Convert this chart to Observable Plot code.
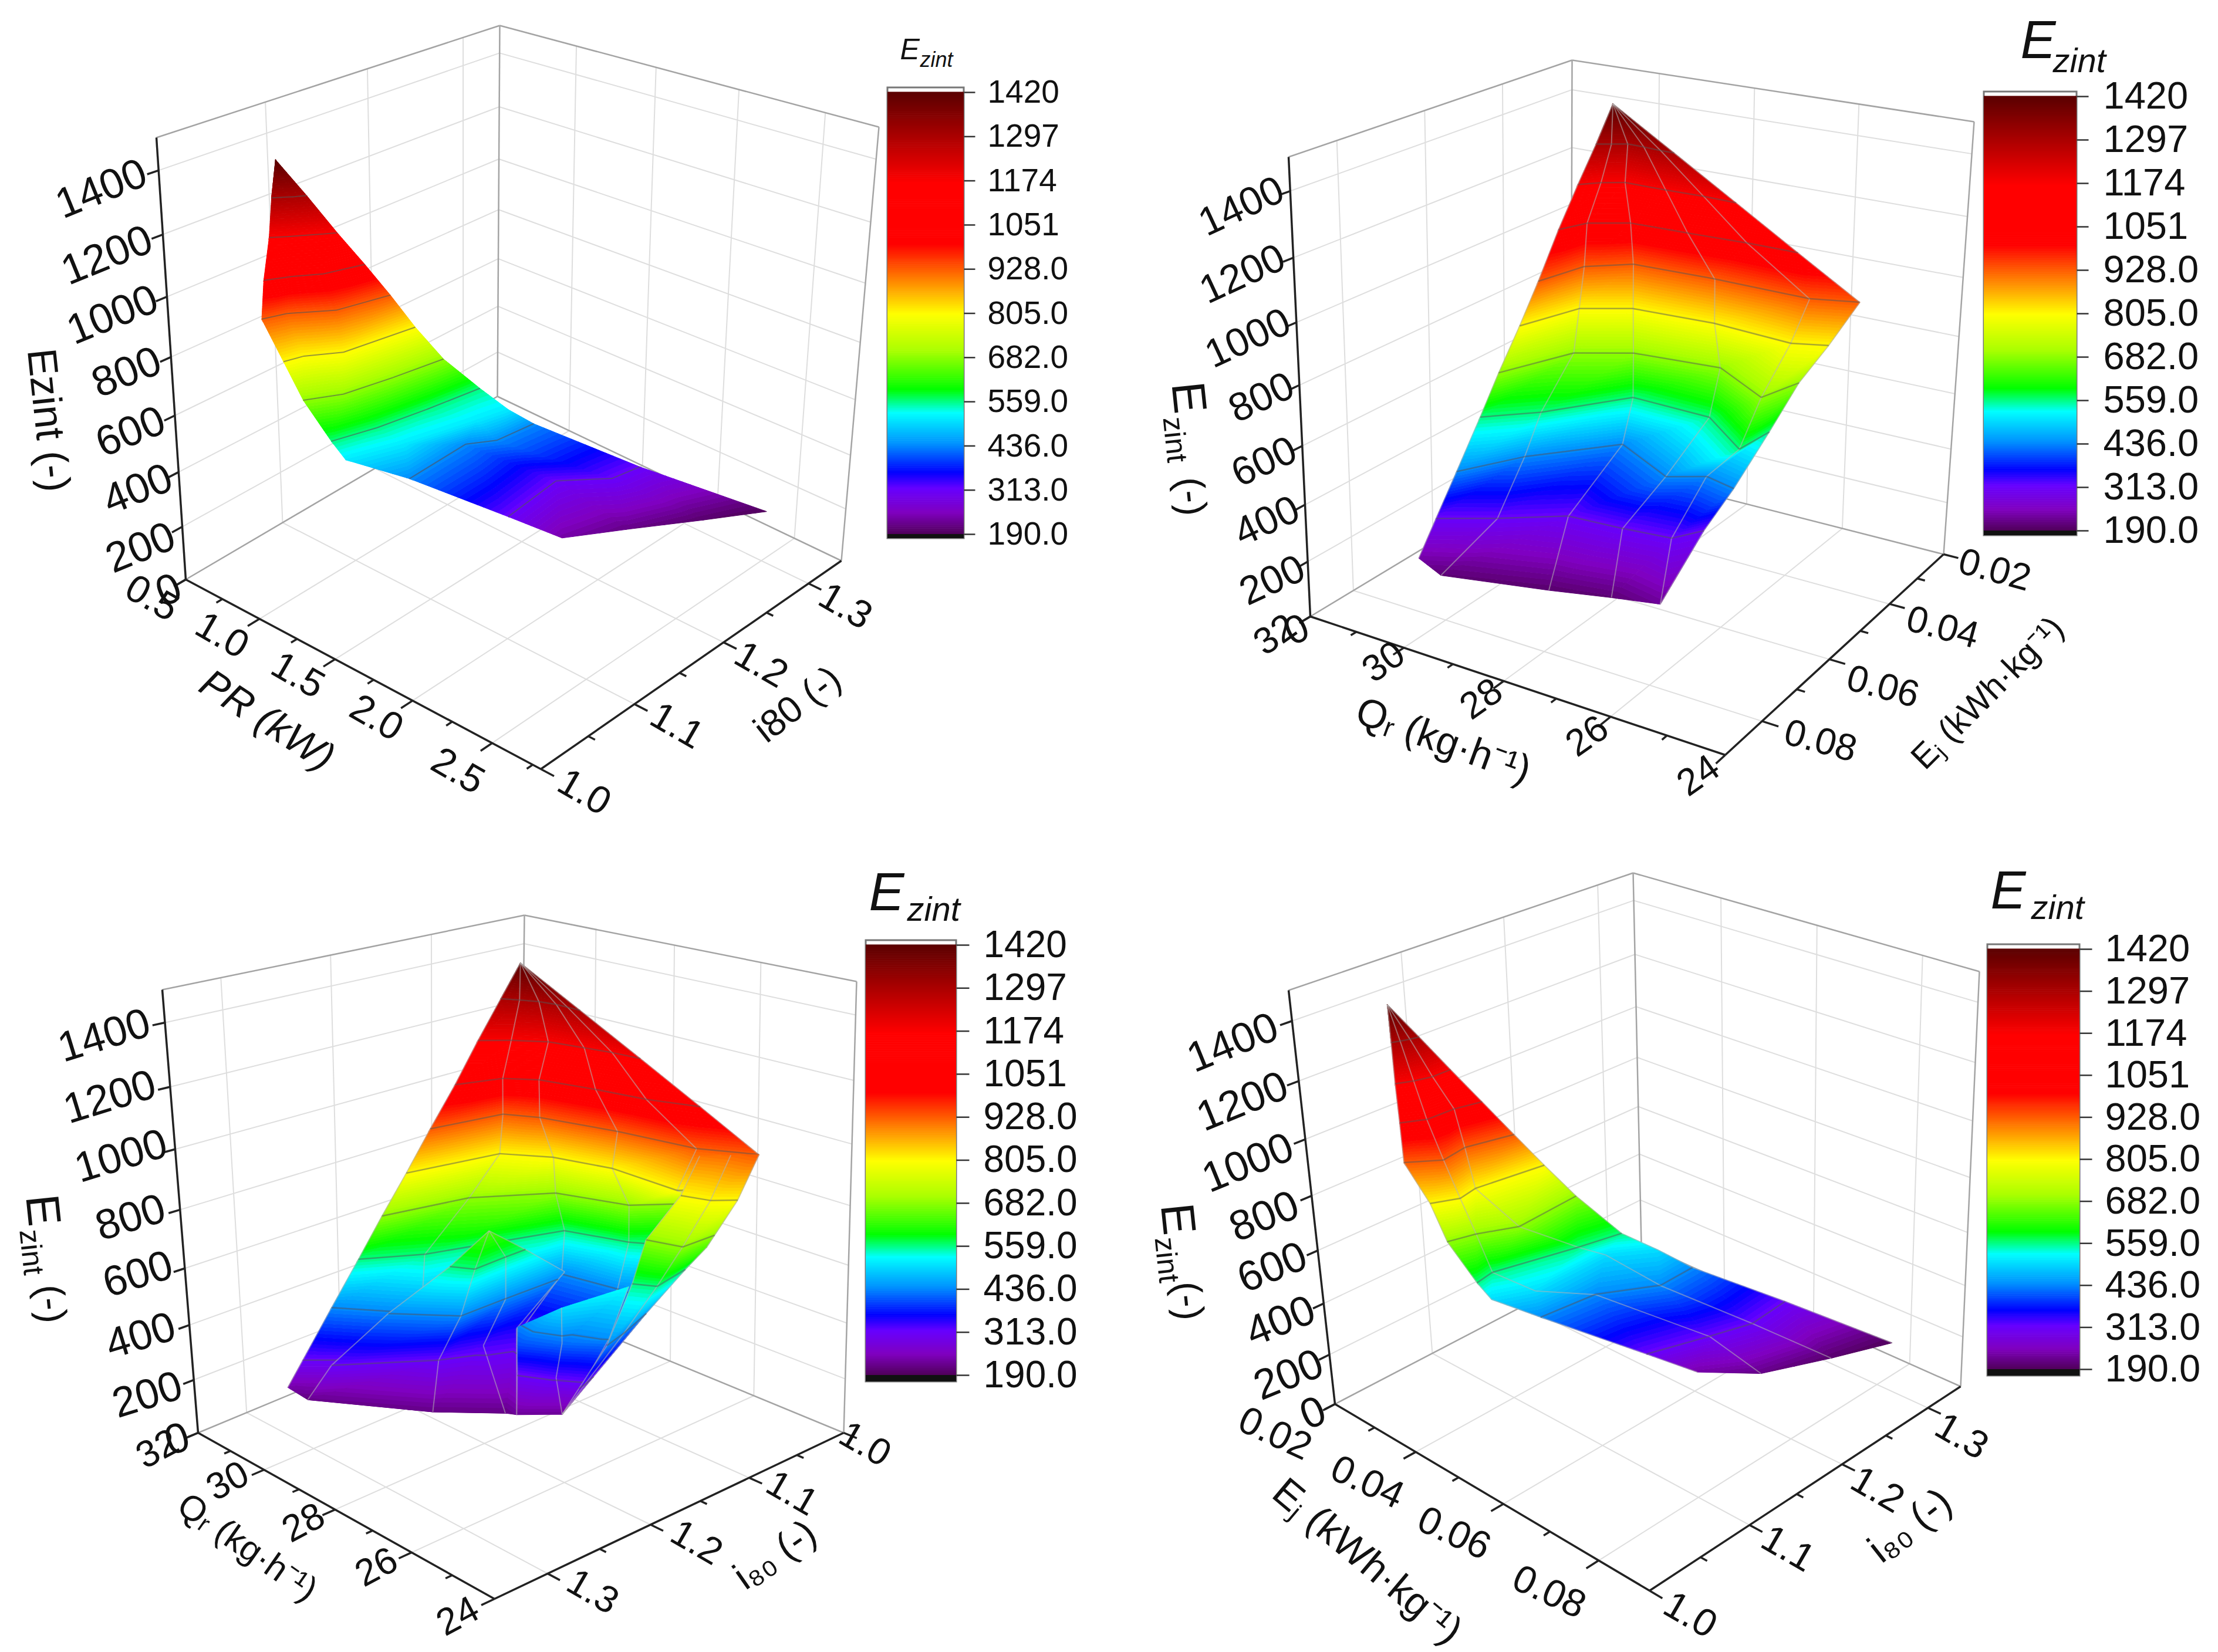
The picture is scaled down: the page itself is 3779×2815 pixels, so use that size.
<!DOCTYPE html>
<html><head><meta charset="utf-8">
<script src="https://cdn.jsdelivr.net/npm/d3@7"></script>
<script src="https://cdn.jsdelivr.net/npm/@observablehq/plot@0.6"></script>
<style>body{margin:0;background:#fff}</style></head><body><div id="c"></div>
<script>
const W=3779,H=2815;
// Colour key
const stops=[190,250,317,362,440,527,592,700,802,997,1167,1420];
const stopColors=["#50005a","#8000c0","#6600ff","#0000ff","#0090ff","#00ffff","#00ff00","#aaff00","#ffff00","#ff0000","#ff0000","#5a0000"];
const levels=[190,313,436,559,682,805,928,1051,1174,1297,1420];
const levelLabels=["190.0","313.0","436.0","559.0","682.0","805.0","928.0","1051","1174","1297","1420"];
const zTicks=[0,200,400,600,800,1000,1200,1400];

// Surface data. a = first floor axis, b = second floor axis, z = Ezint
// Panel 1: PR (kW), i80
const s0a=[.848,.848,.848,.848, .818,.851,.885,.915, .812,.864,.964,1.003, .827,.892,.976,1.042, .823,.866,1.010,1.079, .934,.962,1.070,1.135, 1.013,1.108,1.164,1.210, 1.141,1.208,1.260,1.305, 1.218,1.319,1.419,1.459, 1.426,1.402,1.488,1.512, 1.796,1.749,1.937,1.967, 1.986,2.144,2.335,2.508];
const s0b=[1.058,1.058,1.058,1.058, 1.057,1.063,1.069,1.076, 1.054,1.063,1.083,1.091, 1.045,1.063,1.080,1.111, 1.042,1.060,1.087,1.130, 1.045,1.060,1.083,1.146, 1.051,1.076,1.118,1.163, 1.058,1.093,1.137,1.186, 1.060,1.104,1.164,1.191, 1.092,1.155,1.174,1.210, 1.135,1.195,1.225,1.251, 1.161,1.208,1.257,1.301];
const s0z=[1420,1420,1420,1420, 1297,1297,1297,1297, 1174,1174,1174,1174, 1051,1051,1051,1051, 928,928,928,928, 805,805,805,805, 682,682,682,682, 559,559,559,559, 510,510,510,510, 436,436,436,436, 313,313,313,313, 235,215,200,190];
// Panel 2: Qr, Ej
const s1a=[30.48,30.48,30.48,30.48,30.48,30.48, 30.61,30.37,30.12,29.76,29.38,29.09, 30.75,30.46,30.09,29.21,28.44,27.77, 30.74,30.52,29.85,28.67,27.51,26.52, 30.54,30.31,29.63,27.98,26.12,25.34, 30.56,30.18,29.36,27.75,26.19,25.61, 30.55,29.99,29.09,27.44,26.20,25.98, 30.58,29.82,28.84,27.26,26.17,26.10, 30.43,29.82,28.69,27.35,26.78,26.16, 30.44,29.57,28.62,27.60,26.73,26.43, 30.28,29.78,28.02,27.01,26.14,26.14];
const s1b=[.0275,.0275,.0275,.0275,.0275,.0275, .0308,.0294,.0279,.0280,.0283,.0283, .0343,.0313,.0291,.0291,.0288,.0290, .0400,.0346,.0307,.0302,.0295,.0295, .0482,.0382,.0329,.0321,.0323,.0296, .0531,.0414,.0367,.0356,.0369,.0347, .0589,.0455,.0404,.0385,.0457,.0375, .0635,.0568,.0440,.0445,.0526,.0446, .0714,.0613,.0492,.0559,.0526,.0542, .0766,.0716,.0652,.0644,.0633,.0586, .0827,.0832,.0782,.0756,.0750,.0750];
const s1z=[1420,1420,1420,1420,1420,1420, 1297,1297,1297,1297,1297,1297, 1174,1174,1174,1174,1174,1174, 1051,1051,1051,1051,1051,1051, 928,928,928,928,928,928, 805,805,805,805,805,805, 682,682,682,682,682,682, 559,559,559,559,559,559, 436,436,436,436,436,436, 313,313,313,313,313,313, 235,205,200,205,225,225];
// Panel 3: Qr, i80 (back sheet and three folded flaps)
const s2a=[30.46,30.46,30.46,30.46,30.46,30.46, 30.77,30.43,30.08,29.69,29.39,29.06, 30.77,30.32,29.75,28.98,28.39,27.76, 30.66,30.32,29.77,28.59,27.52,26.56, 30.60,30.29,29.65,28.06,26.42,25.46, 30.54,30.12,29.26,28.07,26.47,25.79, 30.55,30.13,29.18,27.79,26.72,26.11, 30.54,29.87,28.92,27.70,26.80,26.58, 30.40,29.06,28.61,27.42,26.77,26.72, 30.17,28.47,28.27,27.06,26.50,26.79, 30.20,29.78,27.83,26.15,26.15,26.15];
const s2b=[1.063,1.063,1.063,1.063,1.063,1.063, 1.072,1.065,1.058,1.055,1.055,1.055, 1.096,1.078,1.061,1.054,1.049,1.046, 1.124,1.087,1.070,1.058,1.050,1.036, 1.152,1.088,1.074,1.057,1.046,1.025, 1.179,1.098,1.075,1.062,1.064,1.028, 1.204,1.130,1.076,1.056,1.004,1.030, 1.229,1.186,1.077,1.060,1.036,1.027, 1.262,1.220,1.093,1.084,1.082,1.067, 1.300,1.226,1.154,1.146,1.146,1.122, 1.315,1.310,1.257,1.195,1.195,1.195];
const s2z=[1420,1420,1420,1420,1420,1420, 1297,1297,1297,1297,1297,1297, 1174,1174,1174,1174,1174,1174, 1051,1051,1051,1051,1051,1051, 928,928,928,928,928,928, 805,805,805,805,805,805, 682,682,682,682,682,682, 559,559,559,559,559,559, 436,436,436,436,436,436, 313,313,313,313,313,313, 235,210,215,225,225,225];
const s3a=[29.07,29.07,29.07,29.07, 29.11,28.70,28.74,28.75, 29.48,28.49,28.50,28.53, 29.64,28.47,28.23,28.18, 29.69,27.83,26.93,26.67];
const s3b=[1.150,1.150,1.150,1.150, 1.189,1.179,1.146,1.125, 1.238,1.202,1.156,1.093, 1.290,1.226,1.190,1.158, 1.313,1.257,1.220,1.219];
const s3z=[640,640,640,640, 559,559,559,559, 436,436,436,450, 313,313,330,350, 220,215,215,225];
const s4a=[27.50,26.94,26.53, 27.21,26.57,25.99, 27.09,26.48,26.06, 26.67,26.15,26.15];
const s4b=[1.184,1.162,1.111, 1.196,1.177,1.154, 1.201,1.187,1.171, 1.219,1.195,1.195];
const s4z=[430,500,530, 400,420,440, 320,320,340, 225,225,225];
const s5a=[26.37,25.92,25.46, 26.25,25.73,25.42, 26.40,25.74,25.84, 26.31,25.94,26.13, 25.84,26.00,26.32, 26.03,26.03,26.03];
const s5b=[1.045,1.033,1.025, 1.070,1.063,1.049, 1.099,1.091,1.061, 1.117,1.108,1.070, 1.163,1.139,1.102, 1.200,1.200,1.200];
const s5z=[905,915,928, 805,805,805, 682,682,640, 559,559,559, 436,436,436, 240,240,240];
// Panel 4: Ej, i80
const s6a=[.0275,.0275,.0275,.0275, .0279,.0285,.0290,.0294, .0294,.0307,.0316,.0316, .0305,.0326,.0328,.0340, .0318,.0356,.0347,.0369, .0360,.0381,.0373,.0393, .0386,.0400,.0431,.0422, .0434,.0427,.0467,.0485, .0450,.0480,.0479,.0528, .0506,.0518,.0573,.0571, .0632,.0667,.0690,.0683, .0683,.0747,.0790,.0826];
const s6b=[1.057,1.057,1.057,1.057, 1.056,1.062,1.069,1.076, 1.051,1.063,1.077,1.094, 1.048,1.065,1.090,1.112, 1.044,1.066,1.090,1.129, 1.049,1.069,1.087,1.147, 1.052,1.074,1.103,1.165, 1.058,1.076,1.145,1.182, 1.064,1.094,1.167,1.199, 1.087,1.137,1.179,1.215, 1.134,1.183,1.218,1.259, 1.161,1.196,1.251,1.301];
const s6z=[1420,1420,1420,1420, 1297,1297,1297,1297, 1174,1174,1174,1174, 1051,1051,1051,1051, 928,928,928,928, 805,805,805,805, 682,682,682,682, 559,559,559,559, 500,500,500,500, 436,436,436,436, 313,313,313,313, 235,215,200,190];
const sheets=[[0,4,s0a,s0b,s0z],[1,6,s1a,s1b,s1z],[2,6,s2a,s2b,s2z],[2,4,s3a,s3b,s3z],[2,3,s4a,s4b,s4z],[2,3,s5a,s5b,s5z],[3,4,s6a,s6b,s6z]];

// Perspective box of each panel (corners of the drawn cube) and its axes
const panels=[
{off:[0,0],f:[1.0453,1.1042],L:[316,987],F:[921,1310],R:[1433,955],B:[847,675],LT:[266,234],BT:[851,43],RT:[1497,216],
 aR:[.5,2.8],bR:[1,1.34],aT:[.5,1,1.5,2,2.5],aM:[.75,1.25,1.75,2.25,2.75],bT:[1,1.1,1.2,1.3],bM:[1.05,1.15,1.25],mesh:0},
{off:[1950,50],f:[1.0814,1.188],L:[2232,1050],F:[2939,1286],R:[3311,944],B:[2676,782],LT:[2195,267],BT:[2678,102],RT:[3363,207],
 aR:[32,24],bR:[.09,.02],aT:[32,30,28,26,24],aM:[31,29,27,25],bT:[.08,.06,.04,.02],bM:[.07,.05,.03],mesh:1},
{off:[0,1500],f:[1.0453,1.1924],L:[337,2441],F:[842,2724],R:[1437,2441],B:[885,2213],LT:[276,1686],BT:[893,1559],RT:[1459,1672],
 aR:[32,24],bR:[1.35,1],aT:[32,30,28,26,24],aM:[31,29,27,25],bT:[1.3,1.2,1.1,1],bM:[1.25,1.15,1.05],mesh:1},
{off:[1950,1450],f:[1.0814,1.1487],L:[2274,2392],F:[2810,2710],R:[3340,2362],B:[2796,2120],LT:[2195,1687],BT:[2782,1487],RT:[3372,1655],
 aR:[.02,.09],bR:[1,1.34],aT:[.02,.04,.06,.08],aM:[.03,.05,.07],bT:[1,1.1,1.2,1.3],bM:[1.05,1.15,1.25],mesh:1}
];
function homog(q){const [[x0,y0],[x1,y1],[x2,y2],[x3,y3]]=q;
 const dx1=x1-x2,dx2=x3-x2,sx=x0-x1+x2-x3,dy1=y1-y2,dy2=y3-y2,sy=y0-y1+y2-y3;
 const den=dx1*dy2-dx2*dy1,g=(sx*dy2-dx2*sy)/den,h=(dx1*sy-sx*dy1)/den;
 const a=x1-x0+g*x1,b=x3-x0+h*x3,d=y1-y0+g*y1,e=y3-y0+h*y3;
 return (u,v)=>{const m=g*u+h*v+1;return [(a*u+b*v+x0)/m,(d*u+e*v+y0)/m];};}
const wz=z=>{const t=z/1500;return t*(.88+.12*t);};
panels.forEach(p=>{
 const FT=[p.F[0]+p.LT[0]-p.L[0]+p.RT[0]-p.R[0]-p.BT[0]+p.B[0],p.F[1]+p.LT[1]-p.L[1]+p.RT[1]-p.R[1]-p.BT[1]+p.B[1]];
 p.h0=homog([p.L,p.F,p.R,p.B]);p.h1=homog([p.LT,FT,p.RT,p.BT]);
 p.uv=(u,v,z)=>{const a=p.h0(u,v),b=p.h1(u,v),w=wz(z);return [a[0]+w*(b[0]-a[0]),a[1]+w*(b[1]-a[1])];};
 p.pr=(a,b,z)=>p.uv((a-p.aR[0])/(p.aR[1]-p.aR[0]),(b-p.bR[0])/(p.bR[1]-p.bR[0]),z);
});
// Text: panel, string, x, y in panel crop units, rotation, size, italic
const labels=[
...[["1400",180,355],["1200",190,480],["1000",200,592],["800",225,700],["600",232,812],["400",245,920],["200",250,1030],["0",300,1110]].map(d=>[0,...d,-22,72]),
...[["0.5",270,1125],["1.0",395,1195],["1.5",530,1270],["2.0",670,1350],["2.5",815,1450]].map(d=>[0,...d,30,66]),
...[["1.0",1040,1490],["1.1",1205,1365],["1.2",1355,1250],["1.3",1505,1140]].map(d=>[0,...d,30,66]),
[0,"PR (kW)",475,1355,33,68,1],[0,"i80 (-)",1420,1325,-38,64],[0,"Ezint (-)",85,790,84,70],
...[["1400",178,358],["1200",180,495],["1000",190,625],["800",215,745],["600",220,875],["400",225,995],["200",235,1115],["0",280,1215]].map(d=>[1,...d,-25,68]),
...[["32",240,1225],["30",440,1280],["28",620,1355],["26",815,1430],["24",1020,1510]].map(d=>[1,...d,-35,64]),
...[["0.02",1566,1094],["0.04",1470,1210],["0.06",1360,1330],["0.08",1245,1440]].map(d=>[1,...d,15,64]),
[1,"Qᵣ (kg·h⁻¹)",550,1440,20,68],[1,"Eⱼ (kWh·kg⁻¹)",1553,1343,-45,58],[1,"E",80,745,84,80],[1,"zint",55,830,84,50],[1,"(-)",85,945,84,66],
...[["1400",185,315],["1200",195,440],["1000",215,560],["800",232,685],["600",245,800],["400",250,925],["200",262,1045],["0",315,1135]].map(d=>[2,...d,-17,72]),
...[["32",280,1155],["30",405,1220],["28",540,1305],["26",670,1395],["24",815,1495]].map(d=>[2,...d,-28,64]),
...[["1.0",1540,1145],["1.1",1410,1245],["1.2",1240,1345],["1.3",1055,1445]].map(d=>[2,...d,30,64]),
[2,"Qᵣ (kg·h⁻¹)",440,1355,35,60],[2,"i₈₀ (-)",1380,1370,-35,66],[2,"E",75,670,84,80],[2,"zint",55,755,84,50],[2,"(-)",90,860,84,66],
...[["1400",162,375],["1200",180,490],["1000",190,610],["800",220,715],["600",235,815],["400",250,920],["200",265,1025],["0",310,1100]].map(d=>[3,...d,-22,72]),
...[["0.02",240,1140],["0.04",410,1235],["0.06",570,1335],["0.08",745,1450]].map(d=>[3,...d,25,66]),
...[["1.0",1005,1495],["1.1",1185,1365],["1.2",1350,1250],["1.3",1505,1145]].map(d=>[3,...d,30,66]),
[3,"Eⱼ (kWh·kg⁻¹)",410,1390,40,68],[3,"i₈₀ (-)",1410,1320,-38,68],[3,"E",60,720,84,80],[3,"zint",40,800,84,50],[3,"(-)",80,880,84,66]
].map(([p,t,zx,zy,rot,size,it])=>({t,x:panels[p].off[0]+zx/panels[p].f[0],y:panels[p].off[1]+zy/panels[p].f[1],rot,size,it:!!it}));
const bars=[
{x0:1512,x1:1642,top:149,bot:917,yHi:157,yLo:910,tick:1661,tx:1682,fs:55,ex:1533,ey:100,es:50,zx:1567,zy:113,zs:36},
{x0:3380,x1:3538,top:156,bot:912,yHi:164,yLo:904,tick:3558,tx:3583,fs:65,ex:3442,ey:98,es:90,zx:3497,zy:122,zs:58},
{x0:1475,x1:1629,top:1602,bot:2354,yHi:1610,yLo:2343,tick:1651,tx:1675,fs:64,ex:1480,ey:1550,es:90,zx:1545,zy:1568,zs:58},
{x0:3386,x1:3543,top:1609,bot:2344,yHi:1617,yLo:2333,tick:3564,tx:3586,fs:65,ex:3391,ey:1547,es:90,zx:3460,zy:1565,zs:58}
];
const seg=(a,b)=>({x1:a[0],y1:a[1],x2:b[0],y2:b[1]});
const grid=[],edges=[],axes=[];
panels.forEach(p=>{
 const a=(u,v,z)=>p.uv(u,v,z),ua=x=>(x-p.aR[0])/(p.aR[1]-p.aR[0]),vb=x=>(x-p.bR[0])/(p.bR[1]-p.bR[0]);
 p.aT.forEach(t=>{const u=ua(t);if(u>.001&&u<.999){grid.push(seg(a(u,0,0),a(u,1,0)),seg(a(u,1,0),a(u,1,1500)));}});
 p.bT.forEach(t=>{const v=vb(t);if(v>.001&&v<.999){grid.push(seg(a(0,v,0),a(1,v,0)),seg(a(0,v,0),a(0,v,1500)));}});
 zTicks.slice(1).forEach(z=>{grid.push(seg(a(0,0,z),a(0,1,z)),seg(a(0,1,z),a(1,1,z)));});
 edges.push(seg(p.LT,p.BT),seg(p.BT,p.RT),seg(p.RT,p.R),seg(p.B,p.BT),seg(p.L,p.B),seg(p.B,p.R));
 axes.push(seg(p.L,p.LT),seg(p.L,p.F),seg(p.F,p.R));
 p.aT.forEach(t=>axes.push(seg(a(ua(t),0,0),a(ua(t),-.035,0))));
 p.aM.forEach(t=>axes.push(seg(a(ua(t),0,0),a(ua(t),-.018,0))));
 p.bT.forEach(t=>axes.push(seg(a(1,vb(t),0),a(1.035,vb(t),0))));
 p.bM.forEach(t=>axes.push(seg(a(1,vb(t),0),a(1.018,vb(t),0))));
 zTicks.forEach(z=>axes.push(seg(a(0,0,z),a(0,-.03,z))));
});
function clip(poly,c,keepAbove){const out=[];for(let i=0;i<poly.length;i++){const A=poly[i],B=poly[(i+1)%poly.length];
 const ia=keepAbove?A[2]>=c:A[2]<=c,ib=keepAbove?B[2]>=c:B[2]<=c;
 if(ia)out.push(A);
 if(ia!==ib){const t=(c-A[2])/(B[2]-A[2]);out.push([A[0]+t*(B[0]-A[0]),A[1]+t*(B[1]-A[1]),c]);}}
 return out;}
const step=8;let pid=0;
const surfaceMarks=[];
sheets.forEach(([pi,n,sa,sb,sz])=>{
 const p=panels[pi],V=sa.map((a,i)=>{const q=p.pr(a,sb[i],sz[i]);return [q[0],q[1],sz[i]];}),rows=sa.length/n;
 const tris=[],idx=(r,c)=>r*n+c;
 for(let r=0;r<rows-1;r++)for(let c=0;c<n-1;c++){tris.push([V[idx(r,c)],V[idx(r,c+1)],V[idx(r+1,c)]],[V[idx(r,c+1)],V[idx(r+1,c+1)],V[idx(r+1,c)]]);}
 const polys=[],cont=[],mesh=[];
 tris.forEach(t=>{const zs=t.map(d=>d[2]),lo=Math.min(...zs),hi=Math.max(...zs);
  if(hi===lo){polys.push(...t.map(d=>({id:pid,x:d[0],y:d[1],v:lo})));pid++;return;}
  for(let L=Math.floor(lo/step)*step;L<hi;L+=step){let q=clip(t,L,true);q=clip(q,L+step,false);if(q.length<3)continue;
    const v=Math.min(1420,Math.max(190,L+step/2));q.forEach(d=>polys.push({id:pid,x:d[0],y:d[1],v}));pid++;}
  levels.slice(1,-1).forEach(l=>{const c=l+.5;if(c<lo||c>hi)return;const q=[];for(let i=0;i<3;i++){const A=t[i],B=t[(i+1)%3];if((A[2]-c)*(B[2]-c)<0){const k=(c-A[2])/(B[2]-A[2]);q.push([A[0]+k*(B[0]-A[0]),A[1]+k*(B[1]-A[1])]);}}
    if(q.length===2)cont.push(seg(q[0],q[1]));});
 });
 if(p.mesh)for(let c=0;c<n;c++)for(let r=0;r<rows-1;r++)mesh.push(seg(V[idx(r,c)],V[idx(r+1,c)]));
 surfaceMarks.push(Plot.line(polys,{x:"x",y:"y",z:"id",fill:"v",stroke:"v",strokeWidth:1,curve:"linear-closed"}));
 if(mesh.length)surfaceMarks.push(Plot.link(mesh,{x1:"x1",y1:"y1",x2:"x2",y2:"y2",stroke:"#b4b4b4",strokeOpacity:.55,strokeWidth:2}));
 surfaceMarks.push(Plot.link(cont,{x1:"x1",y1:"y1",x2:"x2",y2:"y2",stroke:"#555",strokeOpacity:p.mesh?.5:.6,strokeWidth:p.mesh?2.5:2}));
});
const barCells=[],barTicks=[],barFrames=[],barBlack=[],barLabels=[],eTitles=[];
bars.forEach(b=>{const Y=v=>b.yLo+(v-190)/1230*(b.yHi-b.yLo);
 barFrames.push({x1:b.x0,x2:b.x1,y1:b.top,y2:b.bot});barBlack.push({x1:b.x0,x2:b.x1,y1:b.yLo,y2:b.bot});
 for(let v=190;v<1420;v+=5)barCells.push({x1:b.x0,x2:b.x1,y1:Y(v),y2:Y(v+5)-.6,v:v+2.5});
 levels.forEach((l,i)=>{barTicks.push({x1:b.x1,x2:b.tick,y1:Y(l),y2:Y(l)});barLabels.push({x:b.tx,y:Y(l),t:levelLabels[i],s:b.fs});});
 eTitles.push({x:b.ex,y:b.ey,t:"E",s:b.es},{x:b.zx,y:b.zy,t:"zint",s:b.zs});
});
const link=(d,o)=>Plot.link(d,{x1:"x1",y1:"y1",x2:"x2",y2:"y2",...o});
const labelOpts={x:"x",y:"y",text:"t",rotate:"rot",fontSize:"size",textAnchor:"middle",lineAnchor:"middle",fontFamily:"Liberation Sans",fill:"#111"};
const plot=Plot.plot({width:W,height:H,margin:0,x:{domain:[0,W],range:[0,W],axis:null},y:{domain:[0,H],range:[0,H],axis:null},
 color:{type:"linear",domain:stops,range:stopColors,interpolate:"rgb"},
 style:{background:"#fff"},
 marks:[
  link(grid,{stroke:"#dedede",strokeWidth:2}),
  link(edges,{stroke:"#a4a4a4",strokeWidth:2.5}),
  link(axes,{stroke:"#222",strokeWidth:3.5}),
  ...surfaceMarks,
  Plot.rect(barFrames,{x1:"x1",x2:"x2",y1:"y1",y2:"y2",fill:"#fff",stroke:"#777",strokeWidth:3}),
  Plot.rect(barCells,{x1:"x1",x2:"x2",y1:"y1",y2:"y2",fill:"v"}),
  Plot.rect(barBlack,{x1:"x1",x2:"x2",y1:"y1",y2:"y2",fill:"#111"}),
  link(barTicks,{stroke:"#333",strokeWidth:2.5}),
  Plot.text(barLabels,{x:"x",y:"y",text:"t",fontSize:"s",textAnchor:"start",lineAnchor:"middle",fontFamily:"Liberation Sans",fill:"#111"}),
  Plot.text(eTitles,{x:"x",y:"y",text:"t",fontSize:"s",textAnchor:"start",lineAnchor:"bottom",fontStyle:"italic",fontFamily:"Liberation Sans",fill:"#111"}),
  Plot.text(labels.filter(d=>!d.it),labelOpts),
  Plot.text(labels.filter(d=>d.it),{...labelOpts,fontStyle:"italic"})
 ]});
document.getElementById("c").appendChild(plot);
</script></body></html>
